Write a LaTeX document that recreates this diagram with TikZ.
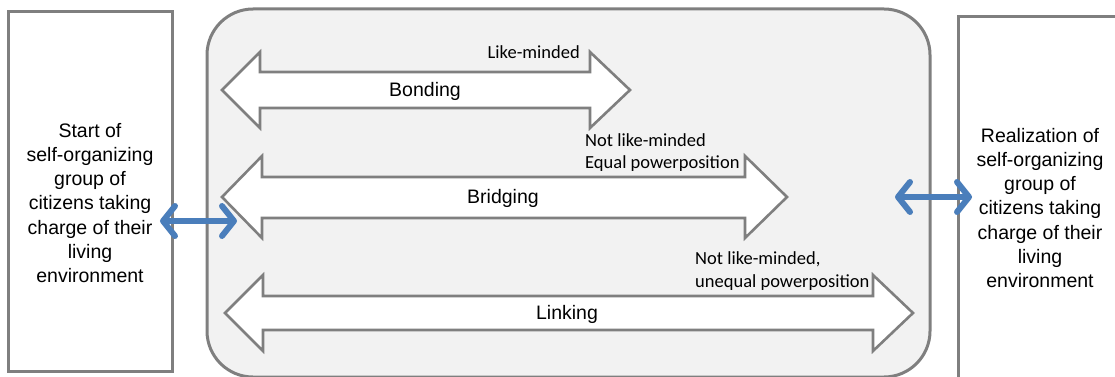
\documentclass[tikz,border=0pt]{standalone}
\usepackage{fontspec}
\setmainfont{Liberation Sans}
\newfontfamily\calib{Carlito}
\usetikzlibrary{arrows.meta}
\definecolor{grayline}{HTML}{7F7F7F}
\definecolor{panelfill}{HTML}{F2F2F2}
\definecolor{blueA}{HTML}{4A7EBB}
\tikzset{
  endbox/.style={draw=grayline, line width=3pt, fill=white},
  boxtext/.style={align=center, font=\fontsize{19.5}{24.2}\selectfont, inner sep=0pt},
  blockarrow/.style={draw=grayline, line width=2.6pt, fill=white, line join=miter},
  arrowlabel/.style={font=\fontsize{19.5}{24}\selectfont, inner sep=0pt},
  smalllabel/.style={font=\calib\fontsize{18.5}{22.5}\selectfont, align=left, inner sep=0pt},
  bluearrow/.style={draw=blueA, line width=6pt, line cap=round,
    {Straight Barb[length=12pt,width=30pt,line cap=round,line join=round]}-{Straight Barb[length=12pt,width=30pt,line cap=round,line join=round]}}
}
\begin{document}
\begin{tikzpicture}[x=1pt,y=-1pt]
\useasboundingbox (0,0) rectangle (1115,377);
% panel
\draw[draw=grayline, line width=3pt, fill=panelfill, rounded corners=46pt] (207,9) rectangle (930,377);
% end boxes
\draw[endbox] (8,12) rectangle (172,371);
\draw[endbox] (958,17) rectangle (1125,390);
\node[boxtext] (ltext) at (90,203) {Start of\\self-organizing\\group of\\citizens taking\\charge of their\\living\\environment};
\node[boxtext] (rtext) at (1040,208) {Realization of\\self-organizing\\group of\\citizens taking\\charge of their\\living\\environment};
% block arrows
\draw[blockarrow] (222,90) -- (260,52) -- (260,72) -- (590,72) -- (590,52) -- (630,90) -- (590,128) -- (590,108) -- (260,108) -- (260,128) -- cycle;
\draw[blockarrow] (222,197) -- (262,156) -- (262,177) -- (745,177) -- (745,156) -- (787,197) -- (745,238) -- (745,218) -- (262,218) -- (262,238) -- cycle;
\draw[blockarrow] (225,313) -- (263,275) -- (263,296) -- (873,296) -- (873,275) -- (913,313) -- (873,351) -- (873,330) -- (263,330) -- (263,351) -- cycle;
% labels
\node[arrowlabel] (bond) at (425,91) {Bonding};
\node[arrowlabel] (brid) at (503,198) {Bridging};
\node[arrowlabel] (link) at (567,314) {Linking};
\node[smalllabel, anchor=base east] (lm) at (580,59) {Like-minded};
\node[smalllabel, anchor=base west] (nlm1) at (585,146) {Not like-minded};
\node[smalllabel, anchor=base west] (nlm1b) at (585,168) {Equal powerposition};
\node[smalllabel, anchor=base west] (nlm2) at (695,264) {Not like-minded,};
\node[smalllabel, anchor=base west] (nlm2b) at (695,287) {unequal powerposition};
% blue connectors
\coordinate (la) at (160,221);
\coordinate (lb) at (237,221);
\coordinate (ra) at (895,197);
\coordinate (rb) at (972,197);
\draw[bluearrow] (la) -- (lb);
\draw[bluearrow] (ra) -- (rb);
\end{tikzpicture}
\end{document}
